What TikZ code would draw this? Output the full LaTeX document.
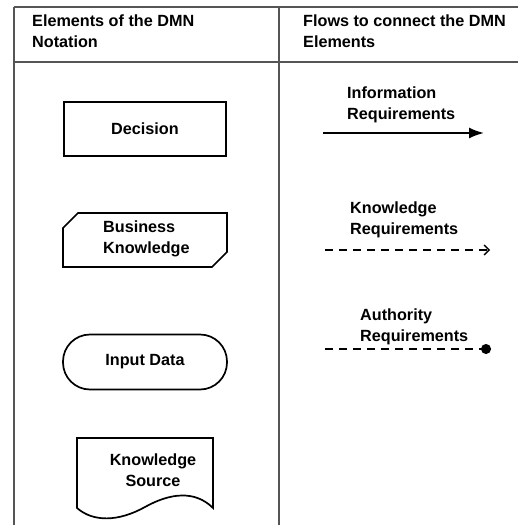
\documentclass[tikz,border=0pt]{standalone}
\usepackage{fontspec}
\setmainfont{Liberation Sans}
\usetikzlibrary{arrows.meta,positioning}
\definecolor{tblgray}{RGB}{85,85,85}

\begin{document}
\begin{tikzpicture}[x=1pt, y=-1pt, >=Stealth,
    txt/.style={font=\bfseries\fontsize{16.2}{20.8}\selectfont, inner sep=0pt, align=left},
    elem/.style={draw, line width=1.7pt},
    grid/.style={draw=tblgray, line width=1.3pt}]
  \useasboundingbox (0,0) rectangle (518,525);
  % table
  \draw[grid] (14,7) -- (518,7);
  \draw[grid] (14,62) -- (518,62);
  \draw[grid] (14,7) -- (14,525);
  \draw[grid] (279,7) -- (279,525);
  \node[txt, anchor=west] (hleft) at (32,31) {Elements of the DMN\\Notation};
  \node[txt, anchor=west] (hright) at (303,31) {Flows to connect the DMN\\Elements};
  % Decision
  \node[elem, txt, minimum width=162pt, minimum height=54pt] (dec) at (145,129) {Decision};
  % Business Knowledge
  \draw[elem] (78,213) -- (227,213) -- (227,252) -- (212,267) -- (63,267) -- (63,228) -- cycle;
  \node[txt, anchor=west] (bkm) at (103,239) {Business\\Knowledge};
  % Input Data
  \node[elem, txt, rounded corners=27pt, minimum width=164pt, minimum height=55pt] (input) at (145,362) {Input Data};
  % Knowledge Source
  \draw[elem] (77,438) -- (213,438) -- (213,508)
    .. controls (195,490) and (170,493) .. (145,507)
    .. controls (118,522) and (93,522) .. (77,508) -- cycle;
  \node[txt, align=center] (ks) at (153,470) {Knowledge\\Source};
  % Information Requirements
  \node[txt, anchor=west] (info) at (347,105) {Information\\Requirements};
  \coordinate (i1) at (323,133);
  \coordinate (i2) at (484,133);
  \draw[line width=1.8pt, -{Latex[length=15pt,width=11pt]}] (i1) -- (i2);
  % Knowledge Requirements
  \node[txt, anchor=west] (know) at (350,220) {Knowledge\\Requirements};
  \coordinate (k1) at (325,250);
  \coordinate (k2) at (490,250);
  \draw[line width=1.4pt, dash pattern=on 8pt off 6pt, -{Straight Barb[length=5pt,width=10pt]}] (k1) -- (k2);
  % Authority Requirements
  \node[txt, anchor=west] (auth) at (360,327) {Authority\\Requirements};
  \coordinate (a1) at (325,349);
  \coordinate (a2) at (491,349);
  \draw[line width=1.4pt, dash pattern=on 8pt off 6pt, -{Circle[length=10pt]}] (a1) -- (a2);
\end{tikzpicture}
\end{document}
